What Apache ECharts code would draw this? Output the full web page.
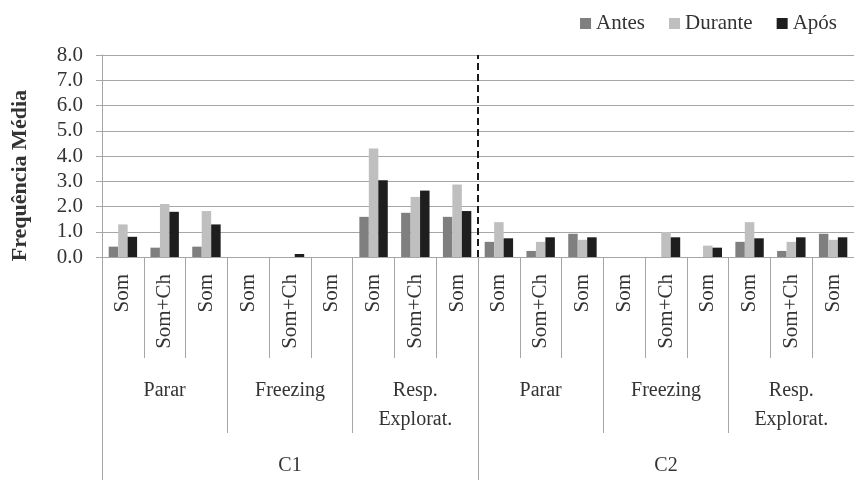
<!DOCTYPE html>
<html>
<head>
<meta charset="utf-8">
<script src="https://cdn.jsdelivr.net/npm/echarts@6/dist/echarts.min.js"></script>
<style>html,body{margin:0;padding:0;background:#fff}#c{width:854px;height:480px}</style>
</head>
<body>
<div id="c"></div>
<script>
const categories = ["Som","Som+Ch","Som","Som","Som+Ch","Som","Som","Som+Ch","Som",
                    "Som","Som+Ch","Som","Som","Som+Ch","Som","Som","Som+Ch","Som"];
const groups = ["Parar","Freezing","Resp.\nExplorat.","Parar","Freezing","Resp.\nExplorat."];
const conditions = ["C1","C2"];
const seriesNames = ["Antes","Durante","Após"];
const antes   = [0.41,0.37,0.41, 0,0,0, 1.59,1.75,1.59, 0.60,0.24,0.92, 0,0,0, 0.60,0.24,0.92];
const durante = [1.29,2.10,1.82, 0,0,0, 4.30,2.38,2.87, 1.38,0.60,0.68, 0,0.99,0.45, 1.38,0.60,0.68];
const apos    = [0.80,1.79,1.29, 0,0.12,0, 3.04,2.63,1.82, 0.74,0.78,0.78, 0,0.78,0.37, 0.74,0.78,0.78];
const yTicks = [0,1,2,3,4,5,6,7,8];
const yTitle = 'Frequência Média';

const font = 'Liberation Serif';
const txt = '#333';
const gridCol = '#a6a6a6';

const chart = echarts.init(document.getElementById('c'));
chart.setOption({
  animation: false,
  textStyle: {fontFamily: font},
  legend: {
    data: seriesNames, right: 12, top: 8, icon: 'rect', itemWidth: 11, itemHeight: 11,
    itemGap: 24, itemStyle: {borderWidth: 0},
    textStyle: {fontFamily: font, fontSize: 21, color: txt}
  },
  graphic: [{
    type: 'text', left: 9, top: 90, rotation: Math.PI / 2,
    style: {text: yTitle, fontFamily: font, fontSize: 22, fontWeight: 'bold', fill: txt}
  }],
  grid: {left: 102, right: -6, top: 55, bottom: 223, containLabel: false},
  yAxis: {
    type: 'value', min: yTicks[0], max: yTicks[yTicks.length-1], interval: 1,
    axisLine: {show: true, lineStyle: {color: gridCol}},
    axisTick: {show: true, length: 6, lineStyle: {color: gridCol}},
    axisLabel: {formatter: v => v.toFixed(1), fontFamily: font, fontSize: 21, color: txt, margin: 19},
    splitLine: {show: true, lineStyle: {color: gridCol}}
  },
  xAxis: [
    {
      type: 'category', data: categories, position: 'bottom', offset: 0,
      axisLine: {show: true, lineStyle: {color: gridCol}},
      axisTick: {show: true, length: 101, interval: 0, lineStyle: {color: gridCol}},
      axisLabel: {rotate: 90, interval: 0, margin: 17, fontFamily: font, fontSize: 21, color: txt}
    },
    {
      type: 'category', data: groups, position: 'bottom', offset: 0,
      axisLine: {show: false},
      axisTick: {show: true, length: 176, interval: 0, lineStyle: {color: gridCol}},
      axisLabel: {interval: 0, margin: 119, fontFamily: font, fontSize: 20, lineHeight: 29, color: txt}
    },
    {
      type: 'category', data: conditions, position: 'bottom', offset: 0,
      axisLine: {show: false},
      axisTick: {show: true, length: 223, interval: 0, lineStyle: {color: gridCol}},
      axisLabel: {interval: 0, margin: 199, fontFamily: font, fontSize: 20, color: txt}
    },
    {type: 'value', show: false, min: 0, max: categories.length}
  ],
  series: [
    {name: seriesNames[0], type: 'bar', data: antes, itemStyle: {color: '#7f7f7f'}, barGap: '0%', barCategoryGap: '32%'},
    {name: seriesNames[1], type: 'bar', data: durante, itemStyle: {color: '#bfbfbf'}, barGap: '0%', barCategoryGap: '32%'},
    {name: seriesNames[2], type: 'bar', data: apos, itemStyle: {color: '#1e1e1e'}, barGap: '0%', barCategoryGap: '32%'},
    {
      name: 'divider', type: 'line', xAxisIndex: 3, data: [], silent: true,
      markLine: {
        silent: true, symbol: 'none', label: {show: false},
        lineStyle: {type: [7, 4], color: '#1a1a1a', width: 2},
        data: [[{coord: [categories.length/2, 0]}, {coord: [categories.length/2, yTicks[yTicks.length-1]]}]]
      }
    }
  ]
});
</script>
</body>
</html>
